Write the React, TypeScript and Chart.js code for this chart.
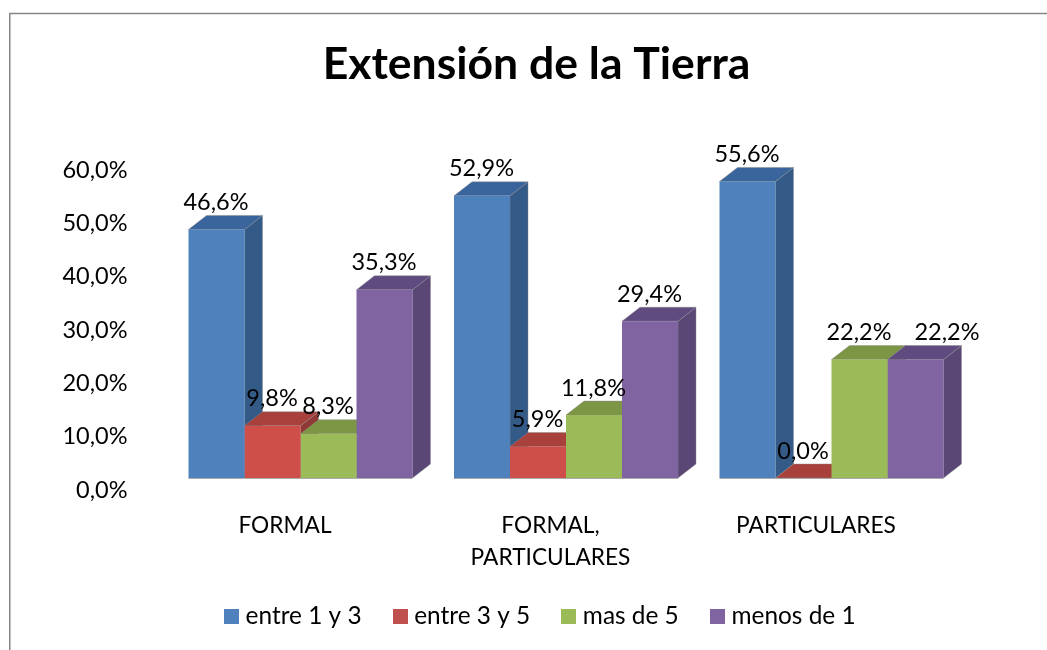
import React, { useEffect, useRef } from "react";
import { Chart, registerables } from "chart.js";

Chart.register(...registerables);

const categories: (string | string[])[] = ["FORMAL", ["FORMAL,", "PARTICULARES"], "PARTICULARES"];
const seriesNames = ["entre 1 y 3", "entre 3 y 5", "mas de 5", "menos de 1"];
const entre1y3 = [46.6, 52.9, 55.6];
const entre3y5 = [9.8, 5.9, 0.0];
const masDe5 = [8.3, 11.8, 22.2];
const menosDe1 = [35.3, 29.4, 22.2];
const yMax = 60;
const yStep = 10;

const seriesValues = [entre1y3, entre3y5, masDe5, menosDe1];
const frontColors = ["#4F81BD", "#CE4F49", "#9BBB59", "#8064A2"];
const legendColors = ["#4F81BD", "#C0504D", "#9BBB59", "#8064A2"];
const sideColors = ["#345A88", "#8F3835", "#6F8A3D", "#5A4776"];
const topColors = ["#3A659C", "#A8403B", "#7C9645", "#5F4B80"];

const FONT = "Lato, Carlito, Calibri, 'Open Sans', sans-serif";
const DEPTH_X = 18;
const DEPTH_Y = 14;
const SHIFT_X = 15.5;
const SHIFT_Y = -12;

const fmt = (v: number) => v.toFixed(1).replace(".", ",") + "%";

function swatch(color: string) {
  const c = document.createElement("canvas");
  c.width = 15;
  c.height = 15;
  const g = c.getContext("2d")!;
  g.fillStyle = color;
  g.fillRect(0, 0, 15, 15);
  return c;
}

const framePlugin = {
  id: "frame",
  afterLayout(chart: any) {
    chart.titleBlock.left -= 6;
    chart.titleBlock.right -= 6;
  },
  beforeDraw(chart: any) {
    const { ctx, width, height } = chart;
    ctx.save();
    ctx.strokeStyle = "#868686";
    ctx.lineWidth = 1.5;
    ctx.beginPath();
    ctx.moveTo(9.75, height);
    ctx.lineTo(9.75, 13.5);
    ctx.lineTo(width, 13.5);
    ctx.stroke();
    ctx.restore();
  },
};

const bars3dPlugin = {
  id: "bars3d",
  beforeDatasetsDraw(chart: any) {
    const { ctx } = chart;
    ctx.save();
    ctx.translate(SHIFT_X, SHIFT_Y);
    ctx.lineWidth = 1;
    ctx.strokeStyle = "rgba(140,140,140,0.45)";
    seriesValues.forEach((_, ds) => {
      chart.getDatasetMeta(ds).data.forEach((bar: any) => {
        const half = bar.width / 2;
        const l = bar.x - half;
        const r = bar.x + half;
        const t = bar.y;
        const b = bar.base;
        ctx.fillStyle = sideColors[ds];
        ctx.beginPath();
        ctx.moveTo(r, t);
        ctx.lineTo(r + DEPTH_X, t - DEPTH_Y);
        ctx.lineTo(r + DEPTH_X, b - DEPTH_Y);
        ctx.lineTo(r, b);
        ctx.closePath();
        ctx.fill();
        ctx.stroke();
        ctx.fillStyle = topColors[ds];
        ctx.beginPath();
        ctx.moveTo(l, t);
        ctx.lineTo(l + DEPTH_X, t - DEPTH_Y);
        ctx.lineTo(r + DEPTH_X, t - DEPTH_Y);
        ctx.lineTo(r, t);
        ctx.closePath();
        ctx.fill();
        ctx.stroke();
      });
    });
  },
  afterDatasetsDraw(chart: any) {
    const { ctx } = chart;
    // closes the translate opened before the bars, and marks the floor edge
    seriesValues.forEach((_, ds) => {
      chart.getDatasetMeta(ds).data.forEach((bar: any) => {
        ctx.strokeStyle = "rgba(150,150,150,0.8)";
        ctx.lineWidth = 1;
        ctx.beginPath();
        ctx.moveTo(bar.x - bar.width / 2, bar.base + 0.5);
        ctx.lineTo(bar.x + bar.width / 2, bar.base + 0.5);
        ctx.stroke();
      });
    });
    ctx.restore();
    ctx.save();
    ctx.fillStyle = "#000";
    ctx.font = `23.5px ${FONT}`;
    ctx.textAlign = "center";
    ctx.textBaseline = "middle";
    seriesValues.forEach((vals, ds) => {
      chart.getDatasetMeta(ds).data.forEach((bar: any, i: number) => {
        const nudge = ds === 3 && i === 2 ? 32 : 0;
        ctx.fillText(fmt(vals[i]), bar.x + SHIFT_X + nudge - 0.5, bar.y + SHIFT_Y - 27);
      });
    });
    ctx.restore();
  },
};

export default function App() {
  const ref = useRef<HTMLCanvasElement>(null);
  useEffect(() => {
    const chart = new Chart(ref.current!, {
      type: "bar",
      data: {
        labels: categories as any,
        datasets: seriesNames.map((name, i) => ({
          label: name,
          data: seriesValues[i],
          backgroundColor: frontColors[i],
          borderWidth: 0,
          barPercentage: 1,
          categoryPercentage: 224 / 265.5,
          clip: false as any,
        })),
      },
      plugins: [framePlugin, bars3dPlugin],
      options: {
        responsive: false,
        animation: false,
        layout: { padding: { left: 55, right: 17, top: 0, bottom: 11.3 } },
        plugins: {
          tooltip: { enabled: false },
          title: {
            display: true,
            text: "Extensión de la Tierra",
            color: "#000",
            font: { family: FONT, size: 44.5, weight: "bold", lineHeight: 1.2 },
            padding: { top: 38.3, bottom: 78.3 },
          },
          legend: {
            position: "bottom",
            labels: {
              color: "#000",
              font: { family: FONT, size: 24.4 },
              usePointStyle: true,
              pointStyleWidth: 4,
              boxHeight: 15,
              padding: 36.5,
              generateLabels: () =>
                seriesNames.map((name, i) => ({
                  text: name,
                  fillStyle: legendColors[i],
                  strokeStyle: legendColors[i],
                  pointStyle: swatch(legendColors[i]),
                  datasetIndex: i,
                  lineWidth: 0,
                  fontColor: "#000",
                })) as any,
            },
          },
        },
        scales: {
          x: {
            grid: { display: false },
            border: { display: false },
            ticks: {
              color: "#000",
              font: { family: FONT, size: 22.7, lineHeight: 32 / 22.7 },
              padding: 11.7,
              maxRotation: 0,
              autoSkip: false,
            },
            afterFit(s: any) {
              s.height = 77.8;
            },
          },
          y: {
            min: 0,
            max: yMax,
            grid: { display: false, drawTicks: false },
            border: { display: false },
            ticks: {
              stepSize: yStep,
              color: "#000",
              font: { family: FONT, size: 23.5 },
              padding: 24.75,
              callback: (v: any) => fmt(Number(v)),
            },
            afterFit(s: any) {
              s.width = 97.25;
            },
          },
          y2: {
            position: "right",
            display: true,
            grid: { display: false, drawTicks: false },
            border: { display: false },
            ticks: { display: false },
            afterFit(s: any) {
              s.width = 81.25;
            },
          },
        },
      } as any,
    });
    return () => chart.destroy();
  }, []);
  return (
    <div style={{ position: "absolute", left: 0, top: 0, width: 1047, height: 650, overflow: "hidden", background: "#fff" }}>
      <canvas ref={ref} width={1047} height={650} style={{ display: "block" }} />
    </div>
  );
}
